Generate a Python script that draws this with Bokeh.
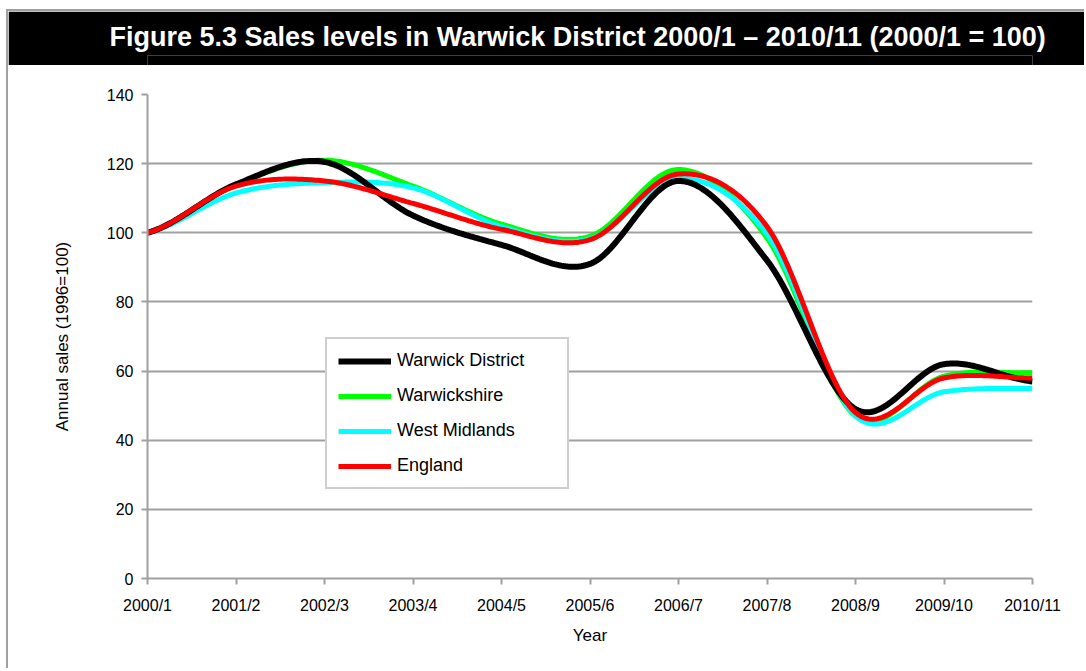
import numpy as np
from bokeh.plotting import figure
from bokeh.models import Range1d, FixedTicker, Legend, LegendItem, Title
from bokeh.layouts import column
from bokeh.embed import file_html
from bokeh.resources import INLINE

years = ["2000/1", "2001/2", "2002/3", "2003/4", "2004/5", "2005/6",
         "2006/7", "2007/8", "2008/9", "2009/10", "2010/11"]
warwick_district = [100, 114, 120.5, 105, 96.5, 91, 115, 92, 49, 62, 57]
warwickshire = [100, 114, 121, 113.5, 102.5, 99, 118.3, 98.5, 47, 58.5, 59.5]
west_midlands = [100, 111.5, 114.5, 113, 101.8, 98.3, 115.7, 99.5, 47, 54, 55]
england = [100, 113.5, 115, 108.5, 101, 98, 117, 101.8, 48, 58, 58]
y_ticks = [0, 20, 40, 60, 80, 100, 120, 140]

FONT = "Liberation Sans"
GRAY = "#a0a0a0"


def smooth(vals, n=40):
    """Cubic Hermite (Catmull-Rom) smoothing through the data points."""
    y = np.asarray(vals, dtype=float)
    k = len(y)
    m = np.empty(k)
    m[1:-1] = (y[2:] - y[:-2]) / 2.0
    m[0] = (y[1] - y[0]) / 2.0
    m[-1] = (y[-1] - y[-2]) / 2.0
    xs, ys = [], []
    t = np.linspace(0, 1, n, endpoint=False)
    h00 = 2 * t**3 - 3 * t**2 + 1
    h10 = t**3 - 2 * t**2 + t
    h01 = -2 * t**3 + 3 * t**2
    h11 = t**3 - t**2
    for i in range(k - 1):
        xs.append(i + t)
        ys.append(h00 * y[i] + h10 * m[i] + h01 * y[i + 1] + h11 * m[i + 1])
    xs.append(np.array([k - 1.0]))
    ys.append(np.array([y[-1]]))
    return np.concatenate(xs), np.concatenate(ys)


W = 1076
BL, BR = 139, 52

# Title bar
tfig = figure(width=W, height=54, output_backend="svg", toolbar_location=None,
              x_range=Range1d(0, 1), y_range=Range1d(0, 1),
              min_border_left=BL, min_border_right=BR, min_border_top=44, min_border_bottom=0)
tfig.axis.visible = False
tfig.grid.visible = False
tfig.outline_line_color = None
tfig.background_fill_color = "black"
tfig.border_fill_color = "black"
tfig.title = Title(text="Figure 5.3 Sales levels in Warwick District 2000/1 \u2013 2010/11 (2000/1 = 100)",
                   text_color="white", text_font=FONT, text_font_style="bold",
                   text_font_size="27px", align="left", offset=-38, standoff=7)

# Main chart
p = figure(width=W, height=603, output_backend="svg", toolbar_location=None,
           x_range=Range1d(0, 10), y_range=Range1d(0, 140),
           min_border_left=BL, min_border_right=BR, min_border_top=29, min_border_bottom=90)
p.outline_line_color = None
p.xgrid.visible = False
p.ygrid.grid_line_color = GRAY
p.ygrid.grid_line_width = 2

p.xaxis.ticker = FixedTicker(ticks=list(range(len(years))))
p.xaxis.major_label_overrides = {i: lab for i, lab in enumerate(years)}
p.yaxis.ticker = FixedTicker(ticks=y_ticks)
for ax in (p.xaxis, p.yaxis):
    ax.axis_line_color = GRAY
    ax.axis_line_width = 2
    ax.major_tick_line_color = GRAY
    ax.major_tick_line_width = 2
    ax.major_tick_out = 6
    ax.major_tick_in = 0
    ax.minor_tick_line_color = None
    ax.major_label_text_font = FONT
    ax.major_label_text_font_size = "16px"
    ax.major_label_text_color = "black"
    ax.axis_label_text_font = FONT
    ax.axis_label_text_font_size = "17px"
    ax.axis_label_text_font_style = "normal"
    ax.axis_label_text_color = "black"
p.xaxis.axis_label = "Year"
p.yaxis.axis_label = "Annual sales (1996=100)"
p.xaxis.major_label_standoff = 12
p.xaxis.axis_label_standoff = 9
p.yaxis.major_label_standoff = 8
p.yaxis.axis_label_standoff = 32

series = [
    ("Warwick District", warwick_district, "black", 6),
    ("Warwickshire", warwickshire, "#00ff00", 5),
    ("West Midlands", west_midlands, "#00ffff", 5),
    ("England", england, "#ff0000", 5),
]
renderers = {}
for name in ["Warwickshire", "West Midlands", "Warwick District", "England"]:
    _, vals, col, lw = next(s for s in series if s[0] == name)
    xs, ys = smooth(vals)
    renderers[name] = p.line(xs, ys, line_color=col, line_width=lw)

legend = Legend(items=[LegendItem(label=s[0], renderers=[renderers[s[0]]]) for s in series],
                location=(178, 89), orientation="vertical",
                border_line_color=GRAY, border_line_width=2,
                background_fill_color="white", background_fill_alpha=1,
                padding=11, spacing=14, margin=0,
                glyph_width=53, glyph_height=20, label_height=20, label_width=159,
                label_standoff=6, label_text_font=FONT, label_text_font_size="18px",
                label_text_color="black")
p.add_layout(legend, "center")

layout = column(tfig, p, spacing=0,
                styles={"margin-left": "6px", "margin-top": "9px",
                        "border-top": "2px solid #a0a0a0", "border-left": "2px solid #a0a0a0"})

open("out.html", "w").write(file_html(layout, INLINE))
